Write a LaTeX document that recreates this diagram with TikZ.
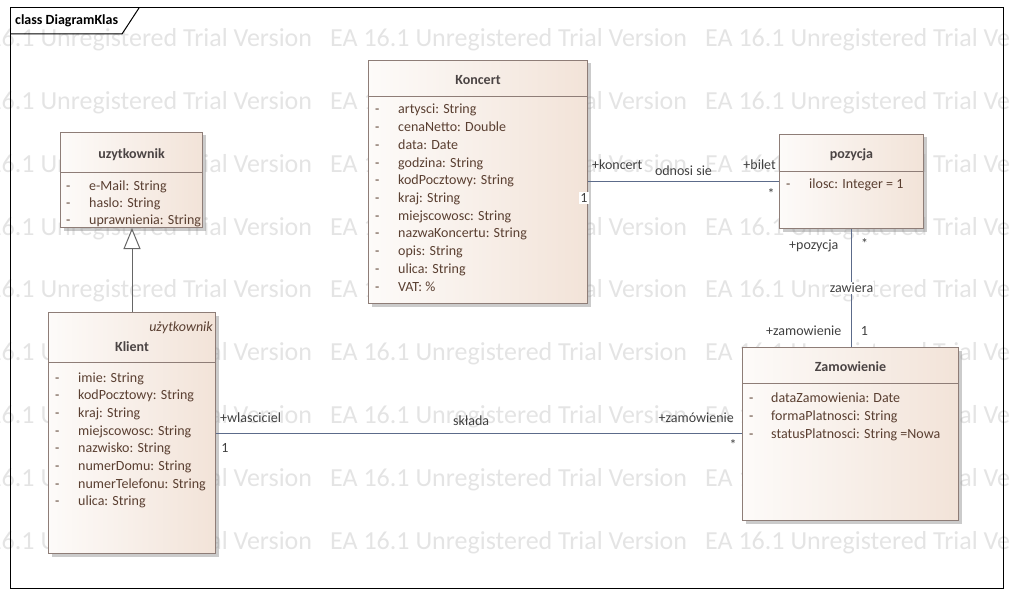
\documentclass[tikz,border=0pt]{standalone}
\usepackage{fontspec}
\setmainfont{Carlito}
\usetikzlibrary{arrows.meta,shadows}
\tikzset{>=latex}
\definecolor{ramka}{HTML}{8E7D77}
\definecolor{tlo}{HTML}{F2E3D8}
\definecolor{linia}{HTML}{5C6B8A}
\definecolor{tekst}{HTML}{5A3F31}
\definecolor{tytul}{HTML}{4B4444}
\definecolor{znak}{HTML}{E4E4E4}
\tikzset{
  klasa/.style={draw=ramka, line width=1pt, left color=tlo!15, right color=tlo,
    drop shadow={shadow xshift=3pt, shadow yshift=-3pt, fill=black!45, opacity=0.45},
    anchor=north west, inner sep=0pt},
  naglowek/.style={font=\fontsize{14}{16}\selectfont\bfseries, text=tytul, inner sep=0pt},
  atrybut/.style={font=\fontsize{14}{16}\selectfont, text=tekst, anchor=west,
    inner sep=0pt, text height=13pt, text depth=3pt},
  podzial/.style={draw=ramka, line width=1pt},
  asocjacja/.style={draw=linia, line width=1pt},
  dziedziczenie/.style={draw=black!60, line width=1pt,
    -{Triangle[length=21pt, width=17pt, fill=white]}},
  etykieta/.style={font=\fontsize{14}{16}\selectfont, text=black!75, inner sep=1pt},
  znakwodny/.style={font=\fontsize{26}{26}\selectfont, text=znak, anchor=west, inner sep=0pt}
}

\begin{document}
\begin{tikzpicture}[x=1pt, y=-1pt]
  \useasboundingbox (0,0) rectangle (1011,596);
  % watermark
  \begin{scope}
    \clip (0,0) rectangle (1011,596);
    \foreach \y in {40,102.8,...,545}
      \foreach \x in {-45,330,705}
        \node[znakwodny] at (\x,\y) {EA 16.1 Unregistered Trial Version};
  \end{scope}
  % frame
  \draw[black, line width=1pt] (10,8) rectangle (1003,588);
  \draw[black, line width=1pt] (10,34) -- (122,34) -- (139,8);
  \node[naglowek, text=black, anchor=west] (nazwa) at (15,21) {class DiagramKlas};

  % uzytkownik
  \node[klasa, minimum width=142pt, minimum height=95pt] (uzytkownik) at (60,132) {};
  \node[naglowek] at ([yshift=-23pt]uzytkownik.north) {uzytkownik};
  \draw[podzial] ([yshift=-41pt]uzytkownik.north west) -- ([yshift=-41pt]uzytkownik.north east);
  \foreach \a [count=\i] in {e-Mail: String, haslo: String, uprawnienia: String} {
    \node[atrybut] at ([shift={(6,{53+17.3*(\i-1)})}]uzytkownik.north west) {-};
    \node[atrybut] at ([shift={(29,{53+17.3*(\i-1)})}]uzytkownik.north west) {\a};
  }

  % Klient
  \node[klasa, minimum width=167pt, minimum height=241pt] (klient) at (48,312) {};
  \node[atrybut, font=\fontsize{14}{16}\selectfont\itshape, anchor=east]
    at ([shift={(-3,14)}]klient.north east) {użytkownik};
  \node[naglowek] at ([yshift=-35pt]klient.north) {Klient};
  \draw[podzial] ([yshift=-50pt]klient.north west) -- ([yshift=-50pt]klient.north east);
  \foreach \a [count=\i] in {imie: String, kodPocztowy: String, kraj: String,
      miejscowosc: String, nazwisko: String, numerDomu: String,
      numerTelefonu: String, ulica: String} {
    \node[atrybut] at ([shift={(7,{65+17.7*(\i-1)})}]klient.north west) {-};
    \node[atrybut] at ([shift={(30,{65+17.7*(\i-1)})}]klient.north west) {\a};
  }

  % Koncert
  \node[klasa, minimum width=219pt, minimum height=243pt] (koncert) at (368,60) {};
  \node[naglowek] at ([yshift=-20pt]koncert.north) {Koncert};
  \draw[podzial] ([yshift=-37pt]koncert.north west) -- ([yshift=-37pt]koncert.north east);
  \foreach \a [count=\i] in {artysci: String, cenaNetto: Double, data: Date,
      godzina: String, kodPocztowy: String, kraj: String, miejscowosc: String,
      nazwaKoncertu: String, opis: String, ulica: String, VAT: \%} {
    \node[atrybut] at ([shift={(7,{49+17.7*(\i-1)})}]koncert.north west) {-};
    \node[atrybut] at ([shift={(30,{49+17.7*(\i-1)})}]koncert.north west) {\a};
  }

  % pozycja
  \node[klasa, minimum width=144pt, minimum height=94pt] (pozycja) at (779,134) {};
  \node[naglowek] at ([yshift=-21pt]pozycja.north) {pozycja};
  \draw[podzial] ([yshift=-38pt]pozycja.north west) -- ([yshift=-38pt]pozycja.north east);
  \node[atrybut] at ([shift={(7,50)}]pozycja.north west) {-};
  \node[atrybut] at ([shift={(30,50)}]pozycja.north west) {ilosc: Integer = 1};

  % Zamowienie
  \node[klasa, minimum width=216pt, minimum height=173pt] (zamowienie) at (742,347) {};
  \node[naglowek] at ([yshift=-20pt]zamowienie.north) {Zamowienie};
  \draw[podzial] ([yshift=-36pt]zamowienie.north west) -- ([yshift=-36pt]zamowienie.north east);
  \foreach \a [count=\i] in {dataZamowienia: Date, formaPlatnosci: String,
      statusPlatnosci: String =Nowa} {
    \node[atrybut] at ([shift={(7,{50+18*(\i-1)})}]zamowienie.north west) {-};
    \node[atrybut] at ([shift={(29,{50+18*(\i-1)})}]zamowienie.north west) {\a};
  }

  % generalization
  \draw[dziedziczenie] (klient.north) -- (klient.north |- uzytkownik.south);

  % odnosi sie
  \draw[asocjacja] (koncert.east) -- (koncert.east -| pozycja.west)
    node[midway, etykieta, yshift=11pt] {odnosi sie};
  \node[etykieta, anchor=west] at ([shift={(3,-17)}]koncert.east) {+koncert};
  \node[etykieta, anchor=east] at ([shift={(-2,-17)}]pozycja.west) {+bilet};
  \node[etykieta, fill=white] at ([shift={(-4,16)}]koncert.east) {1};
  \node[etykieta] at ([shift={(-8,12)}]pozycja.west) {*};

  % zawiera
  \draw[asocjacja] (pozycja.south) -- (pozycja.south |- zamowienie.north)
    node[midway, etykieta, fill=white] {zawiera};
  \node[etykieta, anchor=east] at ([shift={(-12,17)}]pozycja.south) {+pozycja};
  \node[etykieta] at ([shift={(13,15)}]pozycja.south) {*};
  \node[etykieta, anchor=east] at ([shift={(-8,-16)}]zamowienie.north) {+zamowienie};
  \node[etykieta] at ([shift={(14,-16)}]zamowienie.north) {1};

  % sklada
  \draw[asocjacja] (klient.east) -- (klient.east -| zamowienie.west)
    node[pos=0.485, etykieta, yshift=12pt] {składa};
  \node[etykieta, anchor=west] at ([shift={(3,-15)}]klient.east) {+wlasciciel};
  \node[etykieta, anchor=east] at ([shift={(-7,-16)}]zamowienie.west) {+zamówienie};
  \node[etykieta] at ([shift={(9,15)}]klient.east) {1};
  \node[etykieta] at ([shift={(-9,11)}]zamowienie.west) {*};
\end{tikzpicture}
\end{document}
